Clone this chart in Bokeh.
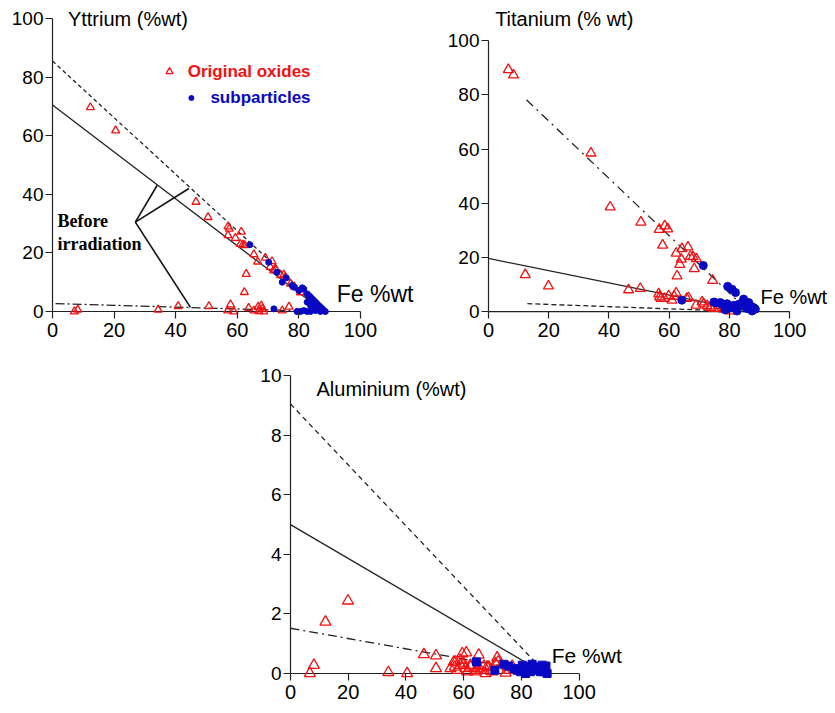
from bokeh.plotting import figure
from bokeh.layouts import column, row
from bokeh.models import Range1d, FixedTicker, Label, Spacer
from bokeh.embed import file_html
from bokeh.resources import INLINE

# ---------------- Yttrium panel data ----------------
y_orig_fe = [7.1, 8.2, 12.3, 20.5, 34.3, 40.8, 46.6, 50.5, 50.8, 57.0, 57.4, 57.0, 57.8, 56.9, 58.9,
             59.4, 61.3, 61.0, 61.8, 62.4, 62.9, 62.3, 63.7, 65.4, 65.4, 66.6, 66.8, 67.0, 67.8, 68.2,
             68.6, 69.1, 70.7, 71.3, 71.8, 72.4, 74.1, 74.6, 75.1, 75.6, 76.8, 77.3, 78.5, 80.5, 84.8]
y_orig_val = [0.0, 0.6, 69.7, 61.8, 0.6, 1.8, 37.4, 32.2, 1.8, 29.0, 28.2, 26.0, 2.4, 0.3, 0.0,
              25.1, 27.2, 23.0, 22.8, 22.6, 12.8, 6.6, 1.2, 19.5, 0.3, 17.0, 1.6, 0.1, 2.0, 0.9,
              0.0, 18.3, 15.2, 17.1, 14.0, 14.6, 12.4, 0.3, 12.6, 11.7, 1.6, 9.5, 8.5, 6.5, 0.6]
y_sub_fe = [64.1, 70.2, 72.9, 74.6, 75.9, 77.8, 78.4, 80.0, 81.1, 81.6, 82.7, 83.2, 83.8, 84.3, 84.8,
            85.4, 85.9, 86.5, 87.0, 87.6, 88.1, 71.9, 79.4, 80.5, 81.6, 82.7, 83.8, 85.4, 87.0, 88.6,
            82.7, 83.8, 84.6, 85.9]
y_sub_val = [22.8, 16.8, 13.4, 10.0, 11.5, 8.9, 8.3, 7.2, 8.1, 7.7, 6.0, 5.5, 4.9, 4.3, 3.8,
             3.2, 2.6, 2.0, 1.5, 0.9, 0.3, 0.9, 0.0, 0.0, 0.3, 0.0, 0.0, 0.3, 0.0, 0.0,
             3.2, 2.0, 0.9, 1.7]
y_dash_fe, y_dash_val = [0, 88.5], [85.5, 0]
y_solid_fe, y_solid_val = [0, 88.0], [70.5, 0]
y_dd_fe, y_dd_val = [1.0, 88.0], [2.7, 0]
# "Before irradiation" pointer: vertex and the three line ends
br_fe = [26.9, 34.0, 44.3, 44.8]
br_val = [30.5, 43.1, 42.0, 1.4]

# ---------------- Titanium panel data ----------------
t_orig_fe = [6.6, 8.3, 34.0, 40.4, 12.2, 19.9, 50.6, 56.7, 58.5, 59.5, 57.8, 64.2, 66.2, 62.3, 64.0,
             63.5, 62.6, 67.0, 67.9, 69.0, 68.3, 74.4, 46.5, 50.4, 56.5, 57.3, 56.8, 58.4, 59.8, 60.9,
             62.3, 61.6, 65.8, 66.4, 68.9, 70.9, 71.4, 72.6, 73.7, 74.8, 76.4, 78.1, 80.3]
t_orig_val = [89.3, 87.3, 58.5, 38.6, 13.6, 9.4, 33.0, 30.3, 31.6, 30.5, 24.5, 23.2, 23.8, 21.5, 19.3,
              17.4, 13.1, 20.3, 20.2, 19.5, 15.8, 11.5, 8.0, 8.5, 6.5, 4.8, 5.4, 4.8, 5.8, 4.2,
              6.8, 5.6, 4.8, 5.1, 2.3, 3.5, 2.8, 2.1, 1.5, 1.1, 2.1, 0.9, 0.2]
t_sub_fe = [71.3, 64.2, 79.4, 80.9, 82.0, 84.7, 85.3, 87.5, 88.6, 74.8, 75.3, 76.4, 77.0, 77.5, 79.2,
            79.7, 80.8, 81.4, 82.0, 83.1, 83.6, 84.2, 84.7, 85.8, 86.4, 86.9, 88.0, 78.6, 82.5, 87.5]
t_sub_val = [17.0, 4.2, 9.3, 8.2, 7.0, 4.6, 2.7, 1.5, 0.9, 3.5, 3.3, 3.1, 3.3, 2.7, 2.9,
             2.1, 1.5, 2.3, 2.1, 2.7, 2.1, 3.1, 3.9, 1.1, 3.3, 2.1, 1.5, 0.6, 0.2, 0.2]
t_dd_fe, t_dd_val = [12.6, 86.4], [78.2, 0]
t_solid_fe, t_solid_val = [0, 87.0], [19.6, 0]
t_dash_fe, t_dash_val = [12.9, 85.0], [2.9, 0]

# ---------------- Aluminium panel data ----------------
a_orig_fe = [19.9, 12.1, 8.1, 6.7, 33.9, 40.4, 46.2, 50.4, 50.4, 59.5, 60.9, 65.2, 56.6, 56.9, 58.9,
             60.0, 60.6, 62.4, 63.9, 65.8, 67.6, 68.7, 69.9, 71.6, 71.9, 74.5, 76.8, 75.1, 55.4, 57.7,
             61.2, 64.7, 67.0, 71.0, 68.1, 64.1, 62.3, 69.3, 75.7, 57.2, 58.8]
a_orig_val = [2.44, 1.73, 0.28, 0.0, 0.04, 0.0, 0.64, 0.60, 0.17, 0.67, 0.70, 0.62, 0.39, 0.22, 0.28,
              0.33, 0.17, 0.22, 0.06, 0.11, 0.0, 0.22, 0.06, 0.53, 0.39, 0.02, 0.25, 0.22, 0.17, 0.11,
              0.06, 0.17, 0.25, 0.33, 0.22, 0.11, 0.28, 0.09, 0.11, 0.39, 0.45]
a_sub_fe = [64.4, 70.8, 73.9, 75.6, 77.4, 78.5, 79.7, 80.3, 82.0, 83.7, 84.9, 86.0, 87.2, 88.3, 87.8,
            86.6, 83.1, 81.4, 80.8, 88.9, 85.5, 88.5]
a_sub_val = [0.39, 0.11, 0.31, 0.25, 0.17, 0.11, 0.06, 0.28, 0.22, 0.31, 0.11, 0.22, 0.28, 0.17, 0.06,
             0.06, 0.06, 0.0, 0.11, 0.0, 0.15, 0.25]
a_dash_fe, a_dash_val = [0, 88.5], [9.05, 0]
a_solid_fe, a_solid_val = [0, 88.0], [5.0, 0]
a_dd_fe, a_dd_val = [0, 88.0], [1.52, 0]

x_ticks = [0, 20, 40, 60, 80, 100]
y_ticks_pct = [0, 20, 40, 60, 80, 100]
y_ticks_al = [0, 2, 4, 6, 8, 10]

RED = "#f41010"
BLUE = "#0808c4"
FONT = "Liberation Sans"
AXC = "#222222"


def make_fig(w, h, bl, bt, bb, xmax, ylo, ymax, ytop, yticks):
    # frame covers the area right of the y axis; the x axis line is drawn at y = 0
    p = figure(width=w, height=h, output_backend="svg", toolbar_location=None,
               x_range=Range1d(0, xmax), y_range=Range1d(ylo, ytop),
               min_border_left=bl, min_border_right=0, min_border_top=bt, min_border_bottom=bb)
    p.outline_line_color = None
    p.xgrid.grid_line_color = None
    p.ygrid.grid_line_color = None
    p.background_fill_color = "white"
    p.border_fill_color = "white"
    p.xaxis.ticker = FixedTicker(ticks=x_ticks)
    p.yaxis.ticker = FixedTicker(ticks=yticks)
    p.xaxis.bounds = (0, 100)
    p.yaxis.bounds = (0, ymax)
    for ax in (p.xaxis[0], p.yaxis[0]):
        ax.axis_line_color = AXC
        ax.axis_line_width = 1.2
        ax.major_tick_line_color = AXC
        ax.major_tick_line_width = 1.2
        ax.minor_tick_line_color = None
        ax.major_label_text_font = FONT
        ax.major_label_text_color = "black"
    p.yaxis.major_tick_in = 0
    p.yaxis.major_tick_out = 7
    # x ticks hang from y = 0 down to the frame's bottom edge
    p.xaxis.axis_line_color = None
    p.xaxis.major_tick_in = 7
    p.xaxis.major_tick_out = 0
    p.xaxis.major_label_text_font_size = "20px"
    p.yaxis.major_label_text_font_size = "19px"
    p.xaxis.major_label_standoff = 4
    p.yaxis.major_label_standoff = 2
    p.line([0, 100], [0, 0], line_color=AXC, line_width=1.2)
    return p


def add_line(p, xs, ys, dash):
    p.line(xs, ys, line_color="#222222", line_width=1.3, line_dash=dash)


def add_pts(p, xo, yo, xs, ys, tri_size, sub_marker, sub_size):
    p.scatter(xo, yo, marker="triangle", size=tri_size, fill_color=None,
              line_color=RED, line_width=1.3)
    p.scatter(xs, ys, marker=sub_marker, size=sub_size, fill_color=BLUE, line_color=BLUE)


def add_label(p, x, y, text, size, color="black", style="normal", font=FONT, align="left"):
    p.add_layout(Label(x=x, y=y, text=text, text_font=font, text_font_size=size,
                       text_color=color, text_font_style=style, text_align=align,
                       text_baseline="middle"))


# ---------- Panel 1: Yttrium ----------
p1 = make_fig(420, 350, 52, 2, 32, 119.5, -2.39, 100, 105.5, y_ticks_pct)
add_line(p1, y_dash_fe, y_dash_val, "4 3")
add_line(p1, y_solid_fe, y_solid_val, "solid")
add_line(p1, y_dd_fe, y_dd_val, "9 3 2 3")
for i in range(1, 4):
    p1.line([br_fe[0], br_fe[i]], [br_val[0], br_val[i]], line_color="#111111", line_width=1.6)
add_pts(p1, y_orig_fe, y_orig_val, y_sub_fe, y_sub_val, 8, "circle", 6)
add_label(p1, 5.0, 100, "Yttrium (%wt)", "20px")
add_label(p1, 92.3, 6.0, "Fe %wt", "23px")
add_label(p1, 1.6, 31.0, "Before", "18px", style="bold", font="Liberation Serif")
add_label(p1, 1.6, 23.2, "irradiation", "18px", style="bold", font="Liberation Serif")
# legend
p1.scatter([38.0], [81.9], marker="triangle", size=7, fill_color=None, line_color=RED, line_width=1.3)
p1.scatter([45.1], [72.9], marker="circle", size=5, fill_color=BLUE, line_color=BLUE)
add_label(p1, 83.8, 81.9, "Original oxides", "17px", color=RED, style="bold", align="right")
add_label(p1, 83.8, 72.9, "subparticles", "17px", color=BLUE, style="bold", align="right")

# ---------- Panel 2: Titanium ----------
p2 = make_fig(415, 350, 68, 2, 31, 115.2, -2.57, 100, 114.1, y_ticks_pct)
add_line(p2, t_dd_fe, t_dd_val, "9 5 2 5")
add_line(p2, t_solid_fe, t_solid_val, "solid")
add_line(p2, t_dash_fe, t_dash_val, "5 3")
add_pts(p2, t_orig_fe, t_orig_val, t_sub_fe, t_sub_val, 10, "circle", 8)
add_label(p2, 2.2, 108, "Titanium (% wt)", "20px")
add_label(p2, 90.3, 5.4, "Fe %wt", "20px")

# ---------- Panel 3: Aluminium ----------
p3 = make_fig(420, 363, 60, 2, 33, 124.7, -0.235, 10, 10.78, y_ticks_al)
add_line(p3, a_dash_fe, a_dash_val, "5 4")
add_line(p3, a_solid_fe, a_solid_val, "solid")
add_line(p3, a_dd_fe, a_dd_val, "9 4 2 4")
add_pts(p3, a_orig_fe, a_orig_val, a_sub_fe, a_sub_val, 11, "square", 8)
add_label(p3, 9.0, 9.56, "Aluminium (%wt)", "20px")
add_label(p3, 90.5, 0.62, "Fe %wt", "21px")

layout = column(row(p1, p2), row(Spacer(width=230, height=363), p3))

open("out.html", "w").write(file_html(layout, INLINE))
